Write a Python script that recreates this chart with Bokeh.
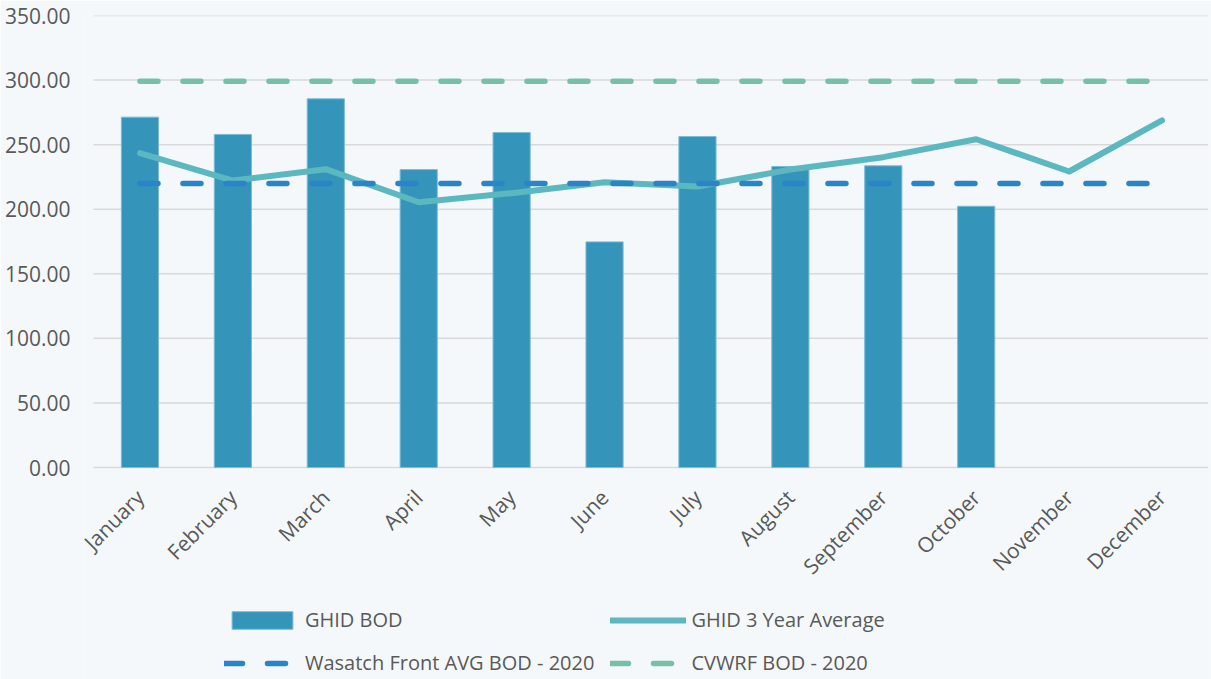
import math
from bokeh.plotting import figure
from bokeh.models import (Range1d, FixedTicker, NumeralTickFormatter, Legend, LegendItem)
from bokeh.embed import file_html
from bokeh.resources import INLINE

months = ["January", "February", "March", "April", "May", "June", "July",
          "August", "September", "October", "November", "December"]
ghid_bod = [271.3, 257.9, 285.5, 230.7, 259.4, 174.7, 256.3, 233.1, 233.6, 202.3]
ghid_3yr = [243.4, 222.2, 231.0, 205.4, 212.4, 220.9, 217.6, 230.7, 240.3, 254.2, 229.2, 268.7]
wasatch = [220.0] * 12
cvwrf = [299.0] * 12
y_ticks = [0, 50, 100, 150, 200, 250, 300, 350]

# category positions (index of each month)
month_idx = list(range(len(months)))
bod_idx = month_idx[:len(ghid_bod)]

BG = "#F4F8FB"
TXT = "#595959"
FONT = "Open Sans"
C_BAR, C_BAR_EDGE = "#3594BA", "#7DBBD6"
C_AVG, C_WAS, C_CV = "#5BB7C0", "#2A84C6", "#78BFA8"
C_GRID = "#D9D9D9"
DASH = "18 25"

W, H = 1211, 679
TOP, ZERO_ROW = 15, 467          # pixel rows of 350 and of 0
PLOT_L, FRAME_L, PLOT_R = 93, 83, 1208
Y_MAX = 350
y_min = -Y_MAX * (H - ZERO_ROW) / (ZERO_ROW - TOP)   # frame reaches below zero for labels/legend
cat_px = (PLOT_R - PLOT_L) / len(months)
x_start = -0.5 - (PLOT_L - FRAME_L) / cat_px
x_end = len(months) - 0.5

p = figure(x_range=Range1d(x_start, x_end), y_range=Range1d(y_min, Y_MAX),
           width=W, height=H, output_backend="svg", toolbar_location=None,
           min_border_left=FRAME_L, min_border_right=W - PLOT_R,
           min_border_top=TOP, min_border_bottom=0)
p.background_fill_color = BG
p.border_fill_color = BG
p.outline_line_color = None

# horizontal gridlines spanning the category area only
p.segment(x0=[-0.5] * len(y_ticks), x1=[len(months) - 0.5] * len(y_ticks),
          y0=y_ticks, y1=y_ticks, line_color=C_GRID, line_width=1.5)

r_bar = p.vbar(x=bod_idx, top=ghid_bod, width=0.4, fill_color=C_BAR,
               line_color=C_BAR_EDGE, line_width=1)
r_avg = p.line(x=month_idx, y=ghid_3yr, line_color=C_AVG, line_width=6,
               line_join="round", line_cap="round")
r_was = p.line(x=month_idx, y=wasatch, line_color=C_WAS, line_width=5.5,
               line_dash=DASH, line_cap="round")
r_cv = p.line(x=month_idx, y=cvwrf, line_color=C_CV, line_width=5.5,
              line_dash=DASH, line_cap="round")

# y axis
p.yaxis.ticker = FixedTicker(ticks=y_ticks)
p.yaxis.formatter = NumeralTickFormatter(format="0.00")
p.yaxis.axis_line_color = None
p.yaxis.major_tick_line_color = None
p.yaxis.minor_tick_line_color = None
p.yaxis.major_label_standoff = 7
p.yaxis.major_label_text_font = FONT
p.yaxis.major_label_text_font_size = "21px"
p.yaxis.major_label_text_color = TXT

# x axis pinned at y = 0, month names as labels
p.xaxis.fixed_location = 0
p.xaxis.ticker = FixedTicker(ticks=month_idx)
p.xaxis.major_label_overrides = {i: m for i, m in zip(month_idx, months)}
p.xaxis.axis_line_color = None
p.xaxis.major_tick_line_color = None
p.xaxis.minor_tick_line_color = None
p.xaxis.major_label_orientation = math.pi / 4
p.xaxis.major_label_standoff = 20
p.xaxis.major_label_text_font = FONT
p.xaxis.major_label_text_font_size = "21px"
p.xaxis.major_label_text_color = TXT

p.xgrid.grid_line_color = None
p.ygrid.grid_line_color = None

legend = Legend(items=[
    LegendItem(label="GHID BOD", renderers=[r_bar]),
    LegendItem(label="GHID 3 Year Average", renderers=[r_avg]),
    LegendItem(label="Wasatch Front AVG BOD - 2020", renderers=[r_was]),
    LegendItem(label="CVWRF BOD - 2020", renderers=[r_cv]),
], location=(224 - FRAME_L, 3), orientation="horizontal", ncols=2)
legend.glyph_width = 76
legend.glyph_height = 22
legend.label_height = 22
legend.spacing = 16
legend.label_standoff = 5
legend.padding = 0
legend.margin = 0
legend.border_line_alpha = 0
legend.background_fill_alpha = 0
legend.label_text_font = FONT
legend.label_text_font_size = "20px"
legend.label_text_color = TXT
p.add_layout(legend, "center")

open("out.html", "w").write(file_html(p, INLINE))
